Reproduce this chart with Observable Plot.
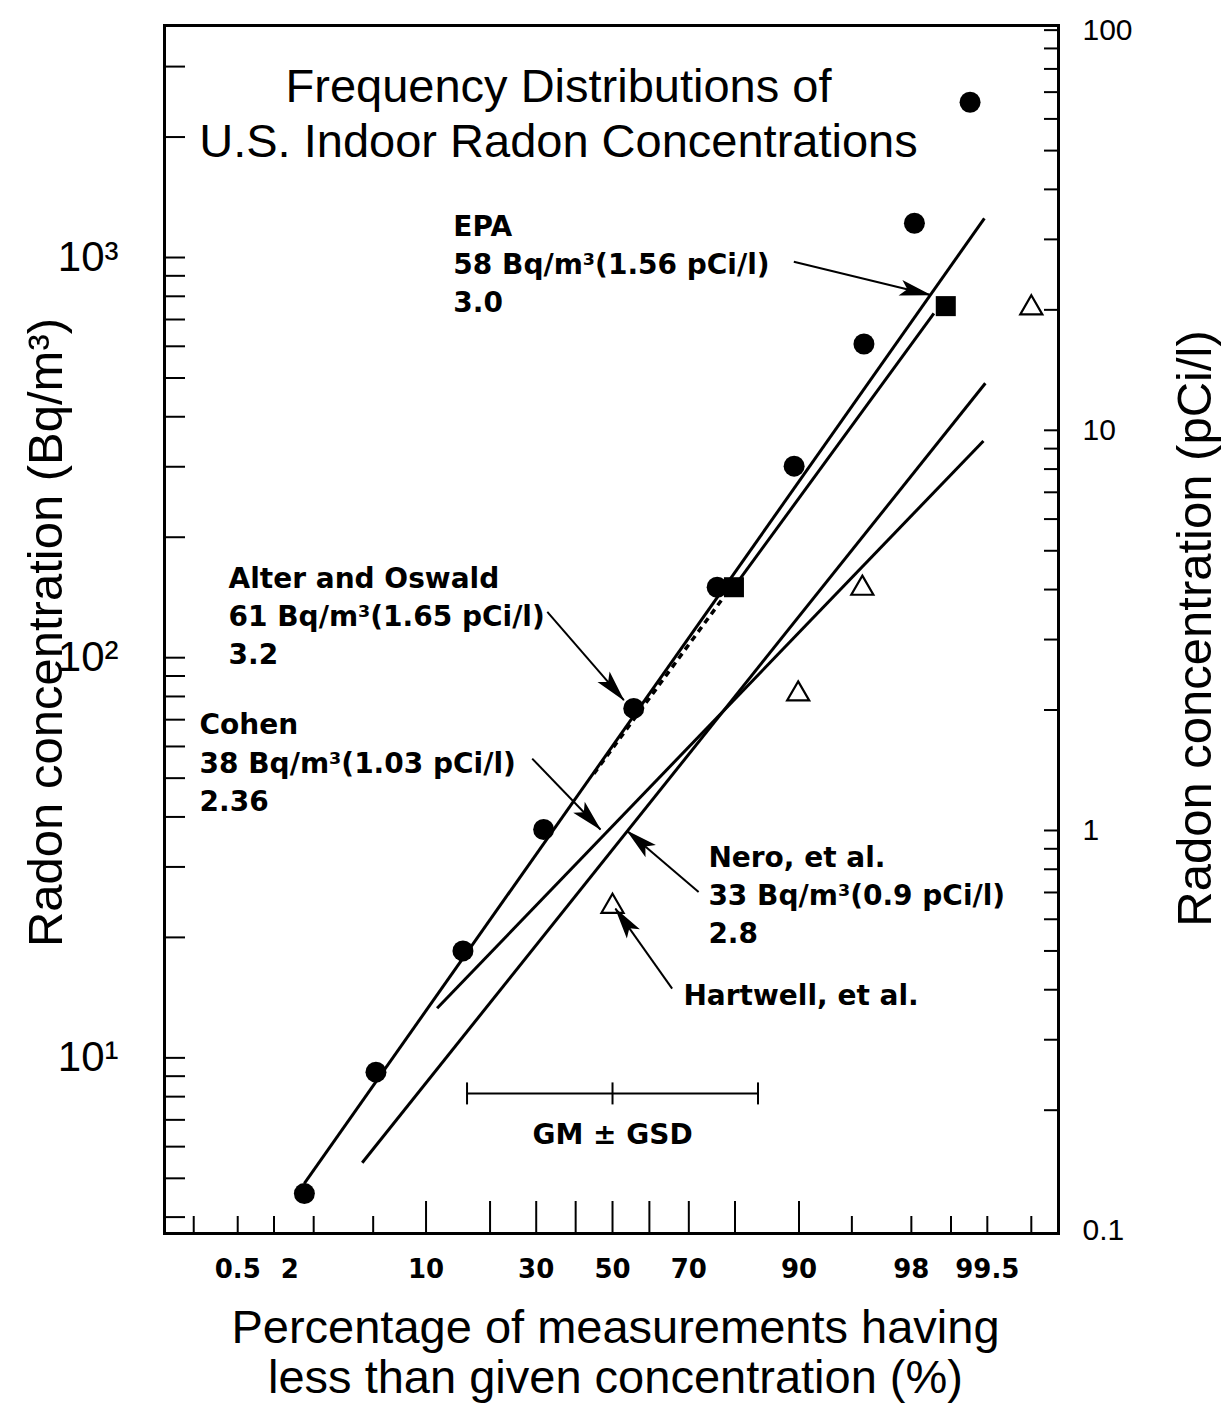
<!DOCTYPE html>
<html>
<head>
<meta charset="utf-8">
<script src="https://cdn.jsdelivr.net/npm/d3@7"></script>
<script src="https://cdn.jsdelivr.net/npm/@observablehq/plot@0.6"></script>
<style>
  html, body { margin: 0; padding: 0; background: #fff; }
  #chart { width: 1222px; height: 1405px; }
</style>
</head>
<body>
<div id="chart"></div>
<script>
// ---------------- data ----------------
const titleLines = "Frequency Distributions of\nU.S. Indoor Radon Concentrations";
const xTitle = "Percentage of measurements having\nless than given concentration (%)";
const yLeftTitle = "Radon concentration (Bq/m³)";
const yRightTitle = "Radon concentration (pCi/l)";

// filled circles (percent, Bq/m3)
const circlePct = [1.71, 5.2, 15.2, 31.8, 55.8, 76.4, 89.4, 95.8, 98.1, 99.3];
const circleBq  = [4.58, 9.21, 18.5, 37.2, 74.7, 150, 301, 608, 1218, 2444];
// filled squares (EPA)
const squarePct = [79.8, 98.9];
const squareBq  = [150, 756];
// open triangles (Hartwell, et al.)
const trianglePct = [50, 89.9, 95.7, 99.8];
const triangleBq  = [23.9, 81.1, 149, 748];

// fitted lognormal lines (end points)
const lineNames    = ["Alter and Oswald", "EPA", "Cohen", "Nero, et al."];
const lineStartPct = [1.71, 79.8, 11.4, 4.27];
const lineStartBq  = [4.86, 150, 13.3, 5.47];
const lineEndPct   = [99.47, 98.64, 99.46, 99.48];
const lineEndBq    = [1253, 725, 348, 485];
// dashed extension of the EPA line
const dashStartPct = 44.9, dashStartBq = 51.3;
const dashEndPct   = 77.8, dashEndBq   = 141.9;

// annotations
const noteTexts = [
  "EPA\n58 Bq/m³(1.56 pCi/l)\n3.0",
  "Alter and Oswald\n61 Bq/m³(1.65 pCi/l)\n3.2",
  "Cohen\n38 Bq/m³(1.03 pCi/l)\n2.36",
  "Nero, et al.\n33 Bq/m³(0.9 pCi/l)\n2.8",
  "Hartwell, et al."
];
const notePct = [13.7, 0.416, 0.227, 74.5, 68.7];
const noteBq  = [974, 128.5, 55.4, 25.9, 14.58];
const arrowFromPct = [89.36, 32.7, 29.05, 72.3, 65.9];
const arrowFromBq  = [976, 130.2, 55.95, 25.97, 14.9];
const arrowToPct   = [98.56, 53.1, 46.7, 54.0, 50.8];
const arrowToBq    = [806, 78.3, 37.2, 36.9, 23.6];

// GM +/- GSD scale bar
const gsdBarPct = [15.87, 50, 84.13];
const gsdBarBq = 8.15;
const gsdLabel = "GM ± GSD";
const gsdLabelBq = 6.4;

// axes
const xLongTicks  = [10, 20, 30, 40, 50, 60, 70, 80, 90];
const xShortTicks = [0.2, 0.5, 1, 2, 5, 95, 98, 99, 99.5, 99.8];
const xTickLabels = [0.5, 2, 10, 30, 50, 70, 90, 98, 99.5];
const yLeftTicks = [4, 5, 6, 7, 8, 9, 10, 20, 30, 40, 50, 60, 70, 80, 90,
  100, 200, 300, 400, 500, 600, 700, 800, 900, 1000, 2000, 3000];
const yLeftLabels = [10, 100, 1000];
const yLeftLabelText = ["10¹", "10²", "10³"];
const pciTicks = [0.2, 0.3, 0.4, 0.5, 0.6, 0.7, 0.8, 0.9, 1, 2, 3, 4, 5, 6, 7, 8, 9,
  10, 20, 30, 40, 50, 60, 70, 80, 90, 100];
const pciLabels = [0.1, 1, 10, 100];
const pciLabelText = ["0.1", "1", "10", "100"];
const bqPerPci = 37;

// ---------------- helpers ----------------
function probit(pct) {
  const p = pct / 100;
  const a = [-3.969683028665376e+01, 2.209460984245205e+02, -2.759285104469687e+02, 1.383577518672690e+02, -3.066479806614716e+01, 2.506628277459239e+00];
  const b = [-5.447609879822406e+01, 1.615858368580409e+02, -1.556989798598866e+02, 6.680131188771972e+01, -1.328068155288572e+01];
  const c = [-7.784894002430293e-03, -3.223964580411365e-01, -2.400758277161838e+00, -2.549732539343734e+00, 4.374664141464968e+00, 2.938163982698783e+00];
  const d = [7.784695709041462e-03, 3.224671290700398e-01, 2.445134137142996e+00, 3.754408661907416e+00];
  const pl = 0.02425, ph = 1 - pl;
  let q, r;
  if (p < pl) {
    q = Math.sqrt(-2 * Math.log(p));
    return (((((c[0]*q+c[1])*q+c[2])*q+c[3])*q+c[4])*q+c[5]) / ((((d[0]*q+d[1])*q+d[2])*q+d[3])*q+1);
  }
  if (p <= ph) {
    q = p - 0.5; r = q * q;
    return (((((a[0]*r+a[1])*r+a[2])*r+a[3])*r+a[4])*r+a[5])*q / (((((b[0]*r+b[1])*r+b[2])*r+b[3])*r+b[4])*r+1);
  }
  q = Math.sqrt(-2 * Math.log(1 - p));
  return -(((((c[0]*q+c[1])*q+c[2])*q+c[3])*q+c[4])*q+c[5]) / ((((d[0]*q+d[1])*q+d[2])*q+d[3])*q+1);
}

// ---------------- layout ----------------
const W = 1222, H = 1405;
const mL = 164, mR = 164, mT = 25, mB = 172;
const zLo = -3.079, zHi = 3.065;
const yLo = 3.64, yHi = 3800;
const frameW = W - mL - mR, frameH = H - mT - mB;
// pixel mapping used only to orient the arrow heads
const px = z => mL + (z - zLo) / (zHi - zLo) * frameW;
const py = v => (H - mB) - (Math.log10(v) - Math.log10(yLo)) / (Math.log10(yHi) - Math.log10(yLo)) * frameH;

// ---------------- tables ----------------
const circles = circlePct.map((p, i) => ({p, v: circleBq[i]}));
const squares = squarePct.map((p, i) => ({p, v: squareBq[i]}));
const triangles = trianglePct.map((p, i) => ({p, v: triangleBq[i]}));
const lines = lineNames.map((name, i) => ({name, p1: lineStartPct[i], v1: lineStartBq[i], p2: lineEndPct[i], v2: lineEndBq[i]}));
const dashed = [{p1: dashStartPct, v1: dashStartBq, p2: dashEndPct, v2: dashEndBq}];
const notes = noteTexts.map((t, i) => ({t, p: notePct[i], v: noteBq[i]}));
const arrows = arrowFromPct.map((p, i) => {
  const a = {p1: p, v1: arrowFromBq[i], p2: arrowToPct[i], v2: arrowToBq[i]};
  const dx = px(probit(a.p2)) - px(probit(a.p1));
  const dy = py(a.v2) - py(a.v1);
  a.angle = Math.atan2(dy, dx) * 180 / Math.PI;
  return a;
});

const arrowHead = {draw(ctx) { ctx.moveTo(1, 0); ctx.lineTo(-31, -8); ctx.lineTo(-24, 0); ctx.lineTo(-31, 8); ctx.closePath(); }};
const vBar = {draw(ctx) { ctx.moveTo(0, -11); ctx.lineTo(0, 11); }};

const annFont = "DejaVu Sans";
const bigFont = "Liberation Sans";
const xLabelStyle = {frameAnchor: "bottom", dy: 44, text: d => String(d),
  fontFamily: annFont, fontWeight: "bold", fontSize: 26};

const chart = Plot.plot({
  width: W, height: H,
  marginLeft: mL, marginRight: mR, marginTop: mT, marginBottom: mB,
  style: {background: "#fff", color: "#000", fontFamily: bigFont},
  x: {type: "linear", domain: [zLo, zHi], axis: null},
  y: {type: "log", domain: [yLo, yHi], axis: null},
  marks: [
    // ticks (drawn inward)
    Plot.ruleX(xLongTicks, {x: d => probit(d), insetTop: frameH - 32, strokeWidth: 2}),
    Plot.ruleX(xShortTicks, {x: d => probit(d), insetTop: frameH - 17, strokeWidth: 2}),
    Plot.ruleY(yLeftTicks, {y: d => d, insetRight: frameW - 21, strokeWidth: 2}),
    Plot.ruleY(pciTicks, {y: d => d * bqPerPci, insetLeft: frameW - 14, strokeWidth: 2}),
    Plot.frame({strokeWidth: 3}),

    // tick labels (the "2" sits a little left of its tick in the original)
    Plot.text(xTickLabels.filter(d => d !== 2), {x: d => probit(d), ...xLabelStyle}),
    Plot.text(xTickLabels.filter(d => d === 2), {x: d => probit(d), ...xLabelStyle, dx: -24}),
    Plot.text(yLeftLabels, {y: d => d, frameAnchor: "left", dx: -46, textAnchor: "end",
      text: (d, i) => yLeftLabelText[i], fontSize: 42, fontFamily: bigFont}),
    Plot.text(pciLabels, {y: d => d * bqPerPci, frameAnchor: "right", dx: 24, textAnchor: "start",
      text: (d, i) => pciLabelText[i], fontSize: 30, fontFamily: bigFont}),

    // axis titles
    Plot.text([xTitle], {frameAnchor: "bottom", dx: 4, dy: 74, lineAnchor: "top", lineHeight: 1.07,
      textAnchor: "middle", text: d => d, fontSize: 47, fontFamily: bigFont}),
    Plot.text([yLeftTitle], {frameAnchor: "left", dx: -118, dy: 3, rotate: -90, textAnchor: "middle",
      lineAnchor: "middle", text: d => d, fontSize: 49, fontFamily: bigFont}),
    Plot.text([yRightTitle], {frameAnchor: "right", dx: 137, dy: -1, rotate: -90, textAnchor: "middle",
      lineAnchor: "middle", text: d => d, fontSize: 49, fontFamily: bigFont}),

    // title inside the frame
    Plot.text([titleLines], {frameAnchor: "top", dx: -53, dy: 86, lineAnchor: "middle", lineHeight: 1.17,
      textAnchor: "middle", text: d => d, fontSize: 47, fontFamily: bigFont}),

    // fitted lines
    Plot.link(lines, {x1: d => probit(d.p1), y1: "v1", x2: d => probit(d.p2), y2: "v2", strokeWidth: 3}),
    Plot.link(dashed, {x1: d => probit(d.p1), y1: "v1", x2: d => probit(d.p2), y2: "v2", strokeWidth: 3.5, strokeDasharray: "6,5"}),

    // data points
    Plot.dot(triangles, {x: d => probit(d.p), y: "v", symbol: "triangle", r: 8.2, fill: "#fff", stroke: "#000", strokeWidth: 2.2}),
    Plot.dot(circles, {x: d => probit(d.p), y: "v", r: 10.5, fill: "#000", stroke: "none"}),
    Plot.dot(squares, {x: d => probit(d.p), y: "v", symbol: "square", r: 11.3, fill: "#000", stroke: "none"}),

    // GM +/- GSD bar
    Plot.link([gsdBarPct], {x1: d => probit(d[0]), x2: d => probit(d[2]), y1: () => gsdBarBq, y2: () => gsdBarBq, strokeWidth: 2}),
    Plot.dot(gsdBarPct, {x: d => probit(d), y: () => gsdBarBq, symbol: vBar, stroke: "#000", fill: "none", strokeWidth: 2}),
    Plot.text([gsdLabel], {x: () => probit(gsdBarPct[1]), y: () => gsdLabelBq, text: d => d,
      fontFamily: annFont, fontWeight: "bold", fontSize: 28}),

    // annotations
    Plot.text(notes, {x: d => probit(d.p), y: "v", text: "t", textAnchor: "start", lineAnchor: "middle",
      lineHeight: 1.36, fontFamily: annFont, fontWeight: "bold", fontSize: 28}),
    Plot.link(arrows, {x1: d => probit(d.p1), y1: "v1", x2: d => probit(d.p2), y2: "v2", strokeWidth: 2}),
    Plot.dot(arrows, {x: d => probit(d.p2), y: "v2", symbol: arrowHead, rotate: "angle", fill: "#000", stroke: "none"})
  ]
});
document.getElementById("chart").appendChild(chart);
</script>
</body>
</html>
